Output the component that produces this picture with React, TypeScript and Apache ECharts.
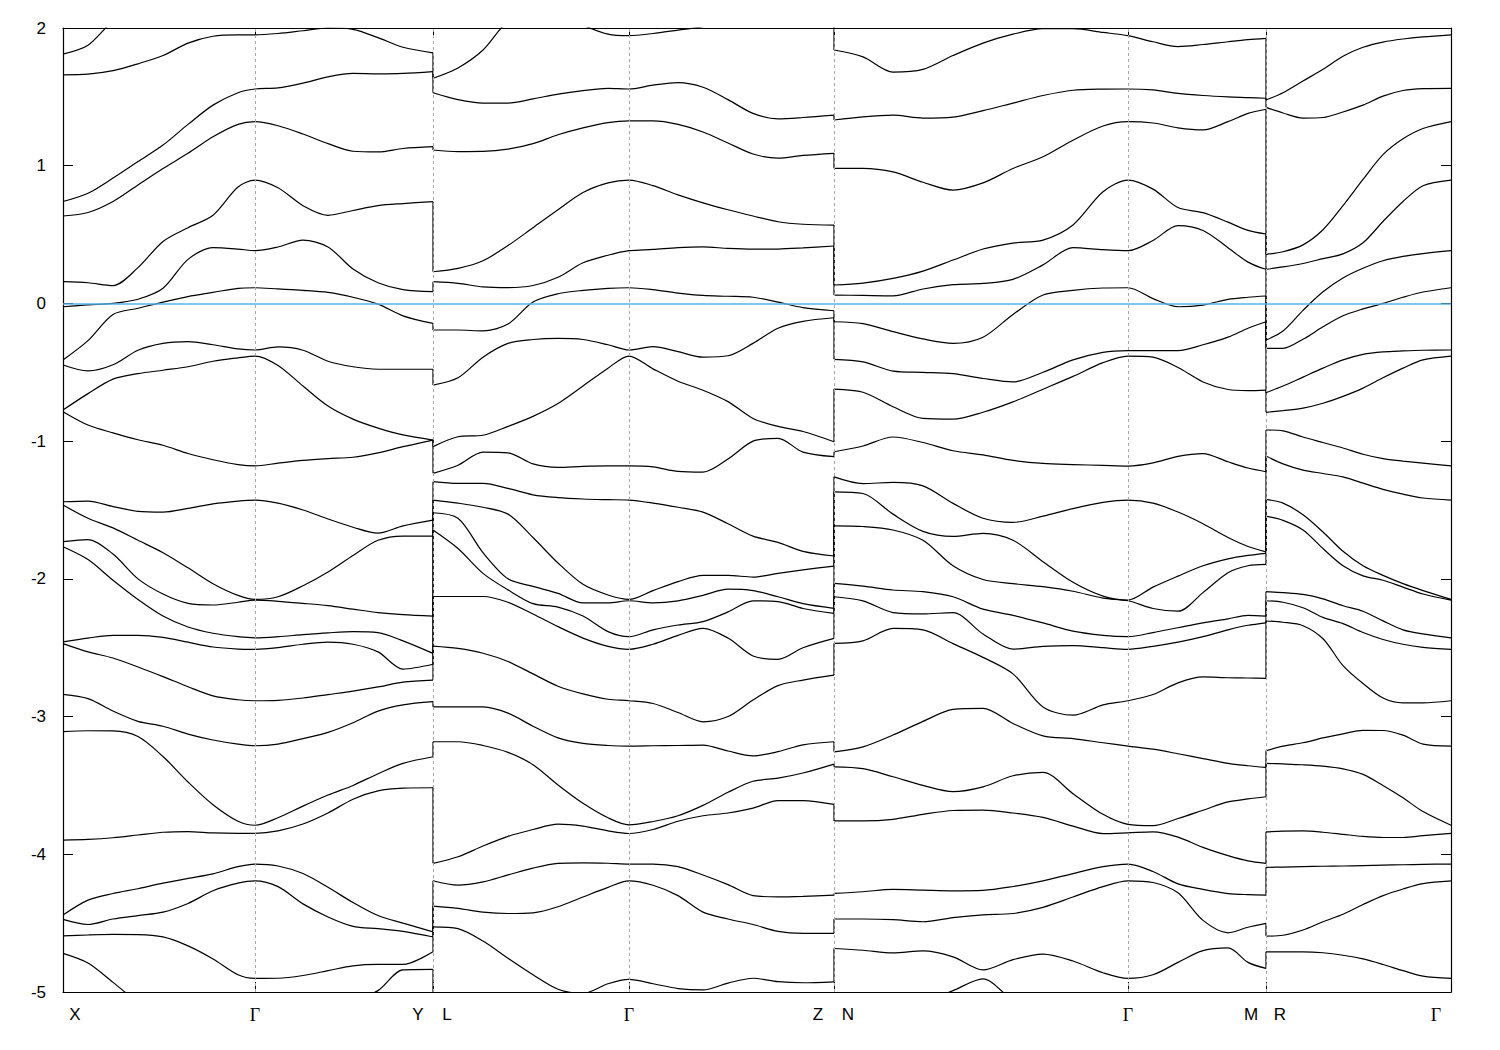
import React, { useEffect, useRef } from "react";
import * as echarts from "echarts";

// k-path coordinates (X-Γ-Y | L-Γ-Z | N-Γ-M | R-Γ)
const kXGY = [0, 25, 50, 75, 100, 125, 150, 175, 192, 215, 240, 265, 290, 315, 340, 370];
const kLGZ = [370, 395, 420, 445, 470, 495, 520, 545, 566, 590, 615, 640, 665, 690, 715, 740, 771];
const kNGM = [771, 800, 830, 860, 890, 920, 950, 980, 1010, 1040, 1065, 1090, 1115, 1140, 1165, 1185, 1203];
const kRG = [1203, 1220, 1240, 1260, 1280, 1300, 1320, 1340, 1360, 1388];

// energies (eV), bands ordered from top to bottom, same band index in every segment
const bandsXGY = [
  [1.81, 1.875, 2.05, 2.15, 2.2, 2.2, 2.2, 2.2, 2.2, 2.2, 2.2, 2.2, 2.2, 2.2, 2.2, 2.2],
  [1.66, 1.665, 1.69, 1.74, 1.8, 1.89, 1.94, 1.95, 1.95, 1.96, 1.98, 2.0, 1.99, 1.93, 1.86, 1.82],
  [0.74, 0.8, 0.91, 1.03, 1.15, 1.3, 1.44, 1.53, 1.557, 1.565, 1.6, 1.645, 1.67, 1.667, 1.67, 1.683],
  [0.635, 0.66, 0.74, 0.86, 0.98, 1.09, 1.21, 1.3, 1.32, 1.29, 1.23, 1.16, 1.105, 1.1, 1.125, 1.138],
  [0.158, 0.15, 0.13, 0.26, 0.45, 0.55, 0.64, 0.845, 0.896, 0.84, 0.71, 0.64, 0.675, 0.71, 0.725, 0.739],
  [-0.024, -0.01, 0.0, 0.03, 0.11, 0.32, 0.405, 0.395, 0.383, 0.41, 0.46, 0.41, 0.25, 0.15, 0.1, 0.085],
  [-0.41, -0.27, -0.08, -0.035, 0.01, 0.05, 0.08, 0.11, 0.114, 0.105, 0.095, 0.08, 0.045, -0.005, -0.09, -0.145],
  [-0.447, -0.49, -0.445, -0.34, -0.29, -0.278, -0.3, -0.33, -0.338, -0.316, -0.34, -0.42, -0.46, -0.478, -0.478, -0.478],
  [-0.774, -0.655, -0.55, -0.51, -0.485, -0.46, -0.42, -0.395, -0.382, -0.45, -0.6, -0.745, -0.84, -0.905, -0.955, -0.992],
  [-0.786, -0.883, -0.94, -0.99, -1.03, -1.09, -1.135, -1.17, -1.18, -1.16, -1.14, -1.127, -1.117, -1.085, -1.04, -0.992],
  [-1.44, -1.435, -1.475, -1.51, -1.515, -1.488, -1.455, -1.435, -1.428, -1.45, -1.5, -1.565, -1.625, -1.668, -1.615, -1.573],
  [-1.464, -1.56, -1.63, -1.72, -1.81, -1.92, -2.035, -2.12, -2.149, -2.13, -2.05, -1.95, -1.83, -1.72, -1.689, -1.689],
  [-1.73, -1.715, -1.82, -2.0, -2.11, -2.178, -2.19, -2.17, -2.155, -2.163, -2.178, -2.195, -2.22, -2.245, -2.26, -2.27],
  [-1.767, -1.86, -2.01, -2.15, -2.27, -2.35, -2.395, -2.42, -2.428, -2.42, -2.405, -2.392, -2.383, -2.39, -2.45, -2.541],
  [-2.457, -2.43, -2.41, -2.41, -2.425, -2.46, -2.495, -2.51, -2.512, -2.5, -2.475, -2.46, -2.475, -2.53, -2.655, -2.62],
  [-2.47, -2.53, -2.575, -2.64, -2.71, -2.783, -2.85, -2.878, -2.885, -2.882, -2.865, -2.84, -2.815, -2.785, -2.75, -2.735],
  [-2.839, -2.87, -2.96, -3.035, -3.07, -3.127, -3.17, -3.2, -3.212, -3.2, -3.16, -3.115, -3.045, -2.96, -2.915, -2.892],
  [-3.11, -3.103, -3.104, -3.145, -3.29, -3.475, -3.64, -3.76, -3.789, -3.735, -3.65, -3.57, -3.5, -3.415, -3.34, -3.292],
  [-3.897, -3.892, -3.88, -3.86, -3.84, -3.835, -3.845, -3.848, -3.848, -3.83, -3.78, -3.7, -3.6, -3.54, -3.52, -3.517],
  [-4.441, -4.333, -4.285, -4.25, -4.21, -4.175, -4.142, -4.09, -4.071, -4.085, -4.14, -4.24, -4.35, -4.445, -4.5, -4.563],
  [-4.473, -4.51, -4.47, -4.445, -4.42, -4.357, -4.265, -4.21, -4.193, -4.235, -4.36, -4.455, -4.523, -4.54, -4.56, -4.6],
  [-4.593, -4.586, -4.582, -4.583, -4.6, -4.665, -4.76, -4.875, -4.901, -4.9, -4.88, -4.845, -4.81, -4.8, -4.8, -4.708],
  [-4.72, -4.79, -4.93, -5.07, -5.15, -5.2, -5.2, -5.2, -5.2, -5.2, -5.2, -5.15, -5.07, -4.99, -4.84, -4.836],
];

const bandsLGZ = [
  [2.3, 2.3, 2.3, 2.3, 2.3, 2.3, 2.3, 2.3, 2.3, 2.3, 2.3, 2.3, 2.3, 2.3, 2.3, 2.3, 2.3],
  [1.635, 1.71, 1.84, 2.05, 2.12, 2.1, 2.02, 1.955, 1.944, 1.96, 1.985, 2.01, 2.06, 2.1, 2.12, 2.12, 2.1],
  [1.53, 1.48, 1.455, 1.455, 1.485, 1.52, 1.545, 1.562, 1.557, 1.585, 1.603, 1.57, 1.48, 1.38, 1.34, 1.35, 1.368],
  [1.114, 1.103, 1.104, 1.12, 1.16, 1.225, 1.275, 1.313, 1.325, 1.325, 1.3, 1.245, 1.165, 1.085, 1.055, 1.075, 1.09],
  [0.23, 0.255, 0.31, 0.42, 0.55, 0.68, 0.805, 0.875, 0.896, 0.855, 0.788, 0.73, 0.68, 0.635, 0.593, 0.575, 0.569],
  [0.158, 0.146, 0.12, 0.115, 0.13, 0.19, 0.295, 0.35, 0.383, 0.392, 0.405, 0.41, 0.4, 0.395, 0.395, 0.403, 0.417],
  [-0.193, -0.193, -0.2, -0.15, 0.01, 0.07, 0.095, 0.11, 0.114, 0.1, 0.075, 0.058, 0.052, 0.045, 0.01, -0.03, -0.053],
  [-0.593, -0.54, -0.39, -0.29, -0.262, -0.254, -0.262, -0.3, -0.338, -0.314, -0.35, -0.39, -0.38, -0.29, -0.18, -0.13, -0.104],
  [-1.04, -0.968, -0.957, -0.893, -0.82, -0.727, -0.6, -0.47, -0.382, -0.475, -0.565, -0.63, -0.713, -0.835, -0.893, -0.93, -1.004],
  [-1.234, -1.175, -1.08, -1.085, -1.165, -1.19, -1.183, -1.18, -1.18, -1.187, -1.22, -1.225, -1.13, -1.0, -0.98, -1.08, -1.113],
  [-1.294, -1.307, -1.307, -1.343, -1.39, -1.41, -1.42, -1.425, -1.428, -1.45, -1.48, -1.515, -1.6, -1.69, -1.735, -1.8, -1.834],
  [-1.428, -1.45, -1.48, -1.53, -1.7, -1.885, -2.04, -2.117, -2.149, -2.085, -2.02, -1.975, -1.975, -1.987, -1.96, -1.935, -1.907],
  [-1.52, -1.56, -1.81, -2.0, -2.055, -2.105, -2.175, -2.175, -2.159, -2.175, -2.16, -2.12, -2.075, -2.085, -2.13, -2.18, -2.214],
  [-1.646, -1.78, -1.96, -2.08, -2.18, -2.205, -2.27, -2.383, -2.42, -2.37, -2.335, -2.31, -2.24, -2.16, -2.165, -2.215, -2.25],
  [-2.128, -2.128, -2.128, -2.17, -2.255, -2.347, -2.43, -2.49, -2.512, -2.475, -2.41, -2.36, -2.43, -2.56, -2.585, -2.5, -2.432],
  [-2.488, -2.505, -2.54, -2.6, -2.69, -2.78, -2.835, -2.874, -2.885, -2.905, -2.97, -3.038, -3.0, -2.88, -2.775, -2.735, -2.699],
  [-2.929, -2.929, -2.93, -2.975, -3.07, -3.155, -3.195, -3.21, -3.214, -3.212, -3.21, -3.207, -3.25, -3.285, -3.255, -3.205, -3.183],
  [-3.183, -3.183, -3.21, -3.26, -3.35, -3.497, -3.63, -3.735, -3.786, -3.762, -3.72, -3.645, -3.55, -3.47, -3.447, -3.41, -3.345],
  [-4.066, -4.018, -3.94, -3.87, -3.82, -3.781, -3.795, -3.83, -3.849, -3.82, -3.76, -3.72, -3.7, -3.665, -3.61, -3.61, -3.638],
  [-4.192, -4.224, -4.2, -4.15, -4.1, -4.066, -4.062, -4.065, -4.071, -4.071, -4.09, -4.15, -4.22, -4.3, -4.309, -4.305, -4.296],
  [-4.376, -4.393, -4.42, -4.43, -4.425, -4.381, -4.31, -4.24, -4.193, -4.225, -4.3, -4.42, -4.47, -4.51, -4.56, -4.574, -4.574],
  [-4.527, -4.54, -4.63, -4.755, -4.875, -4.98, -5.01, -4.94, -4.909, -4.94, -4.975, -4.985, -4.935, -4.9, -4.925, -4.933, -4.926],
  [-5.2, -5.2, -5.2, -5.2, -5.2, -5.2, -5.2, -5.2, -5.2, -5.2, -5.2, -5.2, -5.2, -5.2, -5.2, -5.2, -5.2],
];

const bandsNGM = [
  [2.3, 2.3, 2.3, 2.3, 2.3, 2.3, 2.3, 2.3, 2.3, 2.3, 2.3, 2.3, 2.3, 2.3, 2.3, 2.3, 2.3],
  [1.84, 1.79, 1.68, 1.7, 1.8, 1.89, 1.955, 1.995, 1.995, 1.968, 1.944, 1.9, 1.865, 1.88, 1.9, 1.915, 1.925],
  [1.332, 1.355, 1.367, 1.346, 1.353, 1.4, 1.455, 1.51, 1.548, 1.556, 1.557, 1.55, 1.525, 1.51, 1.5, 1.495, 1.49],
  [0.981, 0.981, 0.955, 0.88, 0.823, 0.875, 0.98, 1.065, 1.185, 1.288, 1.32, 1.31, 1.275, 1.26, 1.32, 1.38, 1.41],
  [0.134, 0.148, 0.182, 0.235, 0.315, 0.395, 0.438, 0.46, 0.57, 0.811, 0.896, 0.83, 0.696, 0.659, 0.59, 0.53, 0.504],
  [0.061, 0.058, 0.055, 0.105, 0.136, 0.145, 0.175, 0.28, 0.405, 0.39, 0.383, 0.457, 0.565, 0.53, 0.405, 0.3, 0.248],
  [-0.133, -0.147, -0.205, -0.258, -0.29, -0.245, -0.08, 0.061, 0.095, 0.112, 0.114, 0.035, -0.024, -0.012, 0.03, 0.045, 0.054],
  [-0.406, -0.425, -0.491, -0.5, -0.51, -0.545, -0.57, -0.5, -0.41, -0.355, -0.343, -0.343, -0.343, -0.3, -0.245, -0.18, -0.133],
  [-0.622, -0.645, -0.75, -0.835, -0.84, -0.79, -0.715, -0.623, -0.53, -0.43, -0.382, -0.39, -0.465, -0.57, -0.625, -0.633, -0.629],
  [-1.077, -1.035, -0.97, -1.01, -1.07, -1.1, -1.14, -1.162, -1.17, -1.176, -1.181, -1.158, -1.11, -1.09, -1.15, -1.195, -1.222],
  [-1.259, -1.308, -1.3, -1.325, -1.452, -1.56, -1.59, -1.545, -1.49, -1.445, -1.428, -1.45, -1.515, -1.6, -1.7, -1.765, -1.804],
  [-1.368, -1.38, -1.53, -1.655, -1.692, -1.67, -1.72, -1.875, -2.025, -2.125, -2.154, -2.06, -1.98, -1.905, -1.855, -1.83, -1.815],
  [-1.615, -1.62, -1.645, -1.72, -1.905, -2.005, -2.035, -2.057, -2.09, -2.14, -2.159, -2.215, -2.235, -2.1, -1.955, -1.905, -1.895],
  [-2.033, -2.053, -2.081, -2.093, -2.13, -2.22, -2.265, -2.32, -2.38, -2.41, -2.42, -2.39, -2.355, -2.32, -2.29, -2.265, -2.27],
  [-2.13, -2.16, -2.245, -2.255, -2.245, -2.4, -2.51, -2.49, -2.485, -2.5, -2.512, -2.49, -2.46, -2.42, -2.37, -2.337, -2.319],
  [-2.468, -2.45, -2.36, -2.37, -2.47, -2.57, -2.69, -2.93, -2.99, -2.915, -2.885, -2.84, -2.755, -2.712, -2.718, -2.72, -2.723],
  [-3.256, -3.22, -3.134, -3.035, -2.948, -2.94, -3.05, -3.14, -3.16, -3.19, -3.214, -3.237, -3.27, -3.305, -3.34, -3.357, -3.369],
  [-3.365, -3.378, -3.437, -3.5, -3.545, -3.51, -3.43, -3.405, -3.56, -3.71, -3.783, -3.792, -3.74, -3.68, -3.62, -3.598, -3.582],
  [-3.758, -3.758, -3.746, -3.71, -3.682, -3.679, -3.7, -3.732, -3.795, -3.85, -3.844, -3.837, -3.875, -3.95, -4.01, -4.048, -4.066],
  [-4.284, -4.272, -4.255, -4.26, -4.265, -4.262, -4.234, -4.193, -4.14, -4.09, -4.071, -4.125, -4.215, -4.255, -4.285, -4.293, -4.296],
  [-4.47, -4.47, -4.475, -4.49, -4.46, -4.44, -4.43, -4.385, -4.31, -4.235, -4.193, -4.205, -4.28, -4.48, -4.57, -4.53, -4.502],
  [-4.684, -4.697, -4.716, -4.702, -4.745, -4.84, -4.765, -4.725, -4.775, -4.86, -4.901, -4.875, -4.785, -4.7, -4.68, -4.785, -4.829],
  [-5.2, -5.2, -5.15, -5.08, -4.99, -4.905, -5.06, -5.15, -5.2, -5.2, -5.2, -5.2, -5.2, -5.2, -5.2, -5.2, -5.2],
];

const bandsRG = [
  [2.3, 2.3, 2.3, 2.3, 2.3, 2.3, 2.3, 2.3, 2.3, 2.3],
  [1.477, 1.53, 1.615, 1.7, 1.795, 1.86, 1.898, 1.92, 1.935, 1.95],
  [1.424, 1.383, 1.346, 1.35, 1.39, 1.44, 1.505, 1.546, 1.56, 1.562],
  [0.356, 0.375, 0.425, 0.535, 0.71, 0.9, 1.08, 1.195, 1.27, 1.32],
  [0.248, 0.265, 0.29, 0.325, 0.36, 0.44, 0.595, 0.74, 0.855, 0.896],
  [-0.266, -0.2, -0.05, 0.085, 0.185, 0.255, 0.31, 0.342, 0.362, 0.383],
  [-0.326, -0.326, -0.26, -0.17, -0.09, -0.04, 0.0, 0.045, 0.083, 0.114],
  [-0.648, -0.6, -0.535, -0.47, -0.41, -0.37, -0.352, -0.345, -0.34, -0.338],
  [-0.791, -0.778, -0.76, -0.725, -0.675, -0.615, -0.54, -0.47, -0.41, -0.382],
  [-0.919, -0.925, -0.97, -1.01, -1.05, -1.095, -1.127, -1.145, -1.16, -1.18],
  [-1.108, -1.165, -1.21, -1.235, -1.26, -1.305, -1.35, -1.385, -1.413, -1.428],
  [-1.423, -1.45, -1.535, -1.66, -1.8, -1.905, -1.975, -2.035, -2.085, -2.149],
  [-1.544, -1.575, -1.645, -1.78, -1.905, -1.978, -2.01, -2.06, -2.11, -2.155],
  [-2.093, -2.1, -2.113, -2.145, -2.195, -2.235, -2.305, -2.37, -2.4, -2.428],
  [-2.159, -2.17, -2.21, -2.28, -2.325, -2.39, -2.44, -2.475, -2.497, -2.512],
  [-2.306, -2.315, -2.34, -2.435, -2.63, -2.76, -2.865, -2.9, -2.9, -2.885],
  [-3.249, -3.215, -3.19, -3.155, -3.125, -3.1, -3.101, -3.135, -3.2, -3.214],
  [-3.34, -3.344, -3.35, -3.36, -3.38, -3.42, -3.5, -3.59, -3.69, -3.789],
  [-3.837, -3.832, -3.83, -3.84, -3.855, -3.87, -3.878, -3.878, -3.865, -3.848],
  [-4.095, -4.093, -4.09, -4.087, -4.085, -4.082, -4.079, -4.076, -4.073, -4.071],
  [-4.594, -4.588, -4.55, -4.49, -4.435, -4.365, -4.3, -4.252, -4.213, -4.193],
  [-4.708, -4.708, -4.708, -4.715, -4.733, -4.76, -4.8, -4.845, -4.885, -4.901],
  [-5.2, -5.2, -5.2, -5.2, -5.2, -5.2, -5.2, -5.2, -5.2, -5.2],
];

// axis ticks / labels
const xTickValues = [192, 370, 566, 771, 1065, 1203];
const xLabelValues = [12, 192, 355, 384, 566, 755, 785, 1065, 1188, 1217, 1373];
const xLabelTexts = ["X", "Γ", "Y", "L", "Γ", "Z", "N", "Γ", "M", "R", "Γ"];
const yMin = -5;
const yMax = 2;
const fermiLevel = 0;

const segments = [
  { k: kXGY, bands: bandsXGY },
  { k: kLGZ, bands: bandsLGZ },
  { k: kNGM, bands: bandsNGM },
  { k: kRG, bands: bandsRG },
];

const FONT = "'Liberation Sans', Arial, Helvetica, sans-serif";

export default function App() {
  const ref = useRef<HTMLDivElement>(null);

  useEffect(() => {
    if (!ref.current) return;
    const chart = echarts.init(ref.current, null, { renderer: "svg" });

    const lineStyle = { color: "#000", width: 1.2 };
    const series: any[] = [];

    segments.forEach((seg) => {
      seg.bands.forEach((band) => {
        series.push({
          type: "line",
          data: seg.k.map((x, j) => [x, band[j]]),
          smooth: 0.3,
          symbol: "none",
          silent: true,
          clip: true,
          lineStyle,
          z: 3,
        });
      });
    });

    // vertical jumps at the discontinuities of the k-path
    for (let s = 0; s < segments.length - 1; s++) {
      const a = segments[s];
      const b = segments[s + 1];
      const kb = a.k[a.k.length - 1];
      a.bands.forEach((band, i) => {
        series.push({
          type: "line",
          data: [
            [kb, band[band.length - 1]],
            [kb, b.bands[i][0]],
          ],
          symbol: "none",
          silent: true,
          clip: true,
          lineStyle,
          z: 3,
        });
      });
    }

    // dotted grid at the high-symmetry points
    series.push({
      type: "line",
      data: [],
      silent: true,
      z: 1,
      markLine: {
        silent: true,
        symbol: ["none", "none"],
        label: { show: false },
        lineStyle: { color: "#a8a8a8", type: [3, 3], width: 1 },
        data: xTickValues.map((v) => ({ xAxis: v })),
      },
    });

    // Fermi level
    series.push({
      type: "line",
      data: [],
      silent: true,
      z: 10,
      markLine: {
        silent: true,
        symbol: ["none", "none"],
        label: { show: false },
        lineStyle: { color: "#56b4e9", type: "solid", width: 1.5 },
        data: [{ yAxis: fermiLevel }],
        z: 10,
      },
    });

    const xLabelFormatter = (v: number) => {
      const idx = xLabelValues.findIndex((x) => Math.abs(x - v) < 0.01);
      if (idx < 0) return "";
      const t = xLabelTexts[idx];
      return t === "Γ" ? "{g|Γ}" : t;
    };

    const axisLine = { show: true, onZero: false, lineStyle: { color: "#000", width: 1.2 } };

    chart.setOption({
      animation: false,
      backgroundColor: "#fff",
      grid: {
        left: 63,
        top: 28,
        right: 49,
        bottom: 58,
        containLabel: false,
        outerBoundsMode: "none",
      },
      xAxis: [
        {
          type: "value",
          min: 0,
          max: 1388,
          position: "bottom",
          axisLine,
          axisTick: {
            show: true,
            inside: true,
            length: 10,
            customValues: xTickValues,
            lineStyle: { color: "#000", width: 1 },
          },
          axisLabel: {
            show: true,
            customValues: xLabelValues,
            formatter: xLabelFormatter,
            color: "#000",
            fontSize: 17,
            fontFamily: FONT,
            margin: 14,
            rich: {
              g: { fontFamily: "'Liberation Serif', 'DejaVu Serif', serif", fontSize: 18, color: "#000" },
            },
          },
          splitLine: { show: false },
        },
        {
          type: "value",
          min: 0,
          max: 1388,
          position: "top",
          axisLine,
          axisTick: {
            show: true,
            inside: true,
            length: 10,
            customValues: xTickValues,
            lineStyle: { color: "#000", width: 1 },
          },
          axisLabel: { show: false },
          splitLine: { show: false },
        },
      ],
      yAxis: [
        {
          type: "value",
          min: yMin,
          max: yMax,
          interval: 1,
          position: "left",
          axisLine,
          axisTick: { show: true, inside: true, length: 10, lineStyle: { color: "#000", width: 1 } },
          axisLabel: { color: "#000", fontSize: 17, fontFamily: FONT, margin: 17 },
          splitLine: { show: false },
        },
        {
          type: "value",
          min: yMin,
          max: yMax,
          interval: 1,
          position: "right",
          axisLine,
          axisTick: { show: true, inside: true, length: 10, lineStyle: { color: "#000", width: 1 } },
          axisLabel: { show: false },
          splitLine: { show: false },
        },
      ],
      series,
    });

    return () => {
      chart.dispose();
    };
  }, []);

  return (
    <div
      ref={ref}
      style={{ position: "absolute", left: 0, top: 0, width: 1500, height: 1050, background: "#fff" }}
    />
  );
}
